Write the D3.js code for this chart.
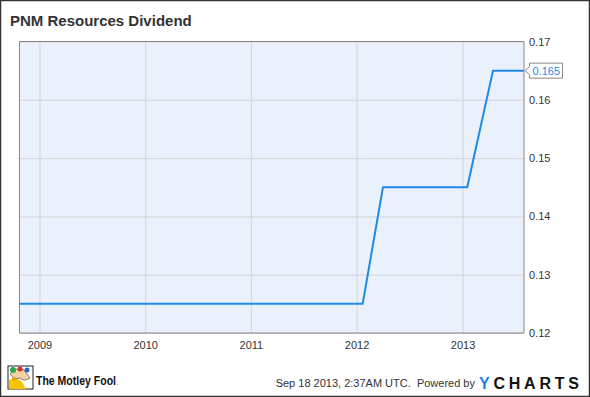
<!DOCTYPE html>
<html><head><meta charset="utf-8">
<script src="https://cdn.jsdelivr.net/npm/d3@7"></script>
<style>body{margin:0;background:#fff}svg{display:block;font-family:"Liberation Sans",Arial,sans-serif}</style>
</head><body><svg id="c" width="590" height="397"></svg>
<script>
const dates = ["2008-10-24","2012-01-22","2012-04-01","2013-01-17","2013-04-16","2013-08-01"];
const values = [0.125,0.125,0.145,0.145,0.165,0.165];
const yTicks = [0.12,0.13,0.14,0.15,0.16,0.17];
const xTickYears = [2009,2010,2011,2012,2013];
const lastLabel = "0.165";

const parse = d3.timeParse("%Y-%m-%d");
const data = dates.map((d,i)=>({date:parse(d), value:values[i]}));
const svg = d3.select("#c");
const L=19.5, R=524, T=41.5, B=333;
const x = d3.scaleTime().domain([parse("2008-10-24"), parse("2013-08-01")]).range([L,R]);
const y = d3.scaleLinear().domain([0.12,0.17]).range([B,T]);

svg.append("rect").attr("x",0.5).attr("y",0.5).attr("width",589).attr("height",396).attr("fill","#fff").attr("stroke","#333").attr("stroke-width",1.5);
svg.append("text").attr("x",10).attr("y",26).attr("font-size",15).attr("font-weight","bold").attr("fill","#333").text("PNM Resources Dividend");

svg.append("rect").attr("x",L).attr("y",T).attr("width",R-L).attr("height",B-T).attr("fill","#eaf1fc");

const xt = xTickYears.map(yr=>new Date(yr,0,1));
const gx = svg.append("g").attr("transform",`translate(0,${B})`).call(d3.axisBottom(x).tickValues(xt).tickFormat(d3.timeFormat("%Y")).tickSize(-(B-T)).tickPadding(8));
gx.select(".domain").remove();
gx.selectAll("line").attr("stroke","#d4d4d4");
gx.selectAll("text").attr("font-size",11).attr("fill","#333").attr("font-family","Liberation Sans, Arial, sans-serif");

const gy = svg.append("g").attr("transform",`translate(${R},0)`).call(d3.axisRight(y).tickValues(yTicks).tickFormat(d=>d3.format(".2f")(d).replace(/0$/,"")).tickSize(-(R-L)).tickPadding(5));
gy.select(".domain").remove();
gy.selectAll("line").attr("stroke","#d4d4d4");
gy.selectAll("text").attr("font-size",11).attr("fill","#333").attr("font-family","Liberation Sans, Arial, sans-serif");

svg.append("path").attr("d",`M${L},${B}V${T}H${R}V${B}`).attr("fill","none").attr("stroke","#888").attr("stroke-width",1);
svg.append("line").attr("x1",L).attr("x2",R).attr("y1",B).attr("y2",B).attr("stroke","#888");

const line = d3.line().x(d=>x(d.date)).y(d=>y(d.value));
svg.append("path").datum(data).attr("d",line).attr("fill","none").attr("stroke","#1f8ae6").attr("stroke-width",2);

// last value label
const ly = y(values[values.length-1]);
const bx = 529.5, bw = 33, bh = 15;
svg.append("path").attr("d",`M${R+1},${ly} L${bx},${ly-4} V${ly-bh/2} H${bx+bw} V${ly+bh/2} H${bx} V${ly+4} Z`).attr("fill","#fff").attr("stroke","#888");
svg.append("text").attr("x",bx+3).attr("y",ly+4).attr("font-size",11).attr("fill","#1f8ae6").text(lastLabel);

// footer
const logo = svg.append("g").attr("transform","translate(8,366)");
logo.append("rect").attr("width",25).attr("height",23).attr("fill","#fff").attr("stroke","#222");
logo.append("path").attr("d","M1,23 L1,14 Q8,10 14,16 L18,23 Z").attr("fill","#f5c400");
logo.append("path").attr("d","M2,8 Q8,0 16,4 L22,12 Q16,16 12,12 Q6,14 2,8Z").attr("fill","#f3d2a8").attr("stroke","#333").attr("stroke-width",0.6);
logo.append("circle").attr("cx",5).attr("cy",4).attr("r",3).attr("fill","#2aa54a");
logo.append("circle").attr("cx",12).attr("cy",3).attr("r",2.5).attr("fill","#d32d27");
logo.append("circle").attr("cx",19).attr("cy",4).attr("r",2.5).attr("fill","#2d63c8");
logo.append("circle").attr("cx",6).attr("cy",13).attr("r",2).attr("fill","#e8a400");
svg.append("text").attr("x",36).attr("y",385).attr("font-size",13).attr("font-weight","bold").attr("textLength",80).attr("lengthAdjust","spacingAndGlyphs").attr("fill","#111").text("The Motley Fool");
svg.append("text").attr("x",116.5).attr("y",385).attr("font-size",5).attr("fill","#111").text(".");

svg.append("text").attr("x",475).attr("y",387).attr("text-anchor","end").attr("font-size",11).attr("fill","#333").text("Sep 18 2013, 2:37AM UTC.  Powered by").attr("xml:space","preserve");
const yc = svg.append("text").attr("x",479).attr("y",388.5).attr("font-size",16).attr("font-weight","bold").attr("textLength",100).attr("lengthAdjust","spacing");
yc.append("tspan").attr("fill","#1f7fd8").text("Y");
yc.append("tspan").attr("fill","#111").text("CHARTS");
</script></body></html>
